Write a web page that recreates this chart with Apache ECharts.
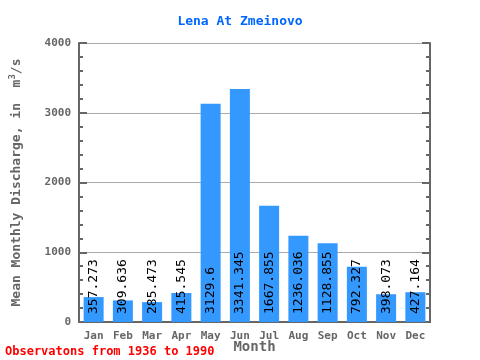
<!DOCTYPE html>
<html><head><meta charset="utf-8">
<script src="https://cdn.jsdelivr.net/npm/echarts@6/dist/echarts.min.js"></script>
<style>html,body{margin:0;padding:0;background:#fff}#c{width:480px;height:360px}</style>
</head><body><div id="c"></div>
<script>
const months = ['Jan','Feb','Mar','Apr','May','Jun','Jul','Aug','Sep','Oct','Nov','Dec'];
const discharge = [357.273, 309.636, 285.473, 415.545, 3129.6, 3341.345, 1667.855, 1236.036, 1128.855, 792.327, 398.073, 427.164];
const yTicks = [0, 1000, 2000, 3000, 4000];

const font = '"DejaVu Sans Mono", monospace';
const axisCol = '#666';
const chart = echarts.init(document.getElementById('c'));
chart.setOption({
  animation: false,
  title: {
    text: 'Lena At Zmeinovo', left: 'center', top: 10,
    textStyle: { color: '#0066ff', fontFamily: font, fontSize: 13, fontWeight: 'bold' }
  },
  graphic: [{
    type: 'text', left: 5, top: 346,
    style: { text: 'Observatons from 1936 to 1990', fill: '#ff0000', font: 'bold 12px ' + font }
  }],
  grid: { left: 79, right: 50, top: 43, bottom: 38, outerBoundsMode: 'none', containLabel: false },
  xAxis: [{
    type: 'category', data: months, position: 'bottom',
    name: 'Month', nameLocation: 'middle', nameGap: 18, nameMoveOverlap: false,
    nameTextStyle: { color: axisCol, fontFamily: font, fontSize: 14, fontWeight: 'bold' },
    axisLine: { lineStyle: { color: axisCol, width: 2 } },
    axisTick: { inside: true, length: 6, lineStyle: { color: axisCol, width: 2 } },
    axisLabel: { color: axisCol, fontFamily: font, fontSize: 11, fontWeight: 'bold', margin: 9 }
  }, {
    type: 'category', data: months, position: 'top',
    axisLine: { lineStyle: { color: axisCol, width: 2 } },
    axisTick: { inside: true, length: 8, lineStyle: { color: axisCol, width: 2 } },
    axisLabel: { show: false }
  }],
  yAxis: [{
    type: 'value', min: yTicks[0], max: yTicks[yTicks.length - 1], interval: 1000,
    name: 'Mean Monthly Discharge, in  m{sup|3}/s', nameLocation: 'middle', nameGap: 54, nameMoveOverlap: false,
    nameTextStyle: { color: axisCol, fontFamily: font, fontSize: 13, fontWeight: 'bold',
      rich: { sup: { fontSize: 9, verticalAlign: 'top', color: axisCol, fontFamily: font, fontWeight: 'bold', padding: [0,0,8,0] } } },
    axisLine: { show: true, lineStyle: { color: axisCol, width: 2 } },
    axisTick: { show: true, inside: true, length: 8, lineStyle: { color: axisCol, width: 2 } },
    minorTick: { show: true, splitNumber: 5, length: 4, lineStyle: { color: axisCol, width: 2 } },
    splitLine: { show: true, lineStyle: { color: '#aaa', width: 1 } },
    axisLabel: { color: axisCol, fontFamily: font, fontSize: 11, fontWeight: 'bold', margin: 8,
      formatter: v => String(v) }
  }, {
    type: 'value', min: yTicks[0], max: yTicks[yTicks.length - 1], interval: 1000, position: 'right',
    axisLine: { show: true, lineStyle: { color: axisCol, width: 2 } },
    axisTick: { show: true, inside: true, length: 8, lineStyle: { color: axisCol, width: 2 } },
    minorTick: { show: true, splitNumber: 5, length: 4, lineStyle: { color: axisCol, width: 2 } },
    splitLine: { show: false },
    axisLabel: { show: false }
  }],
  series: [{
    type: 'bar', data: discharge, barWidth: 20,
    itemStyle: { color: '#3399ff' },
    label: {
      show: true, position: 'insideBottom', rotate: 90, align: 'left', verticalAlign: 'middle',
      distance: 8, color: '#000', fontFamily: font, fontSize: 13,
      formatter: p => String(discharge[p.dataIndex])
    }
  }]
});
</script></body></html>
